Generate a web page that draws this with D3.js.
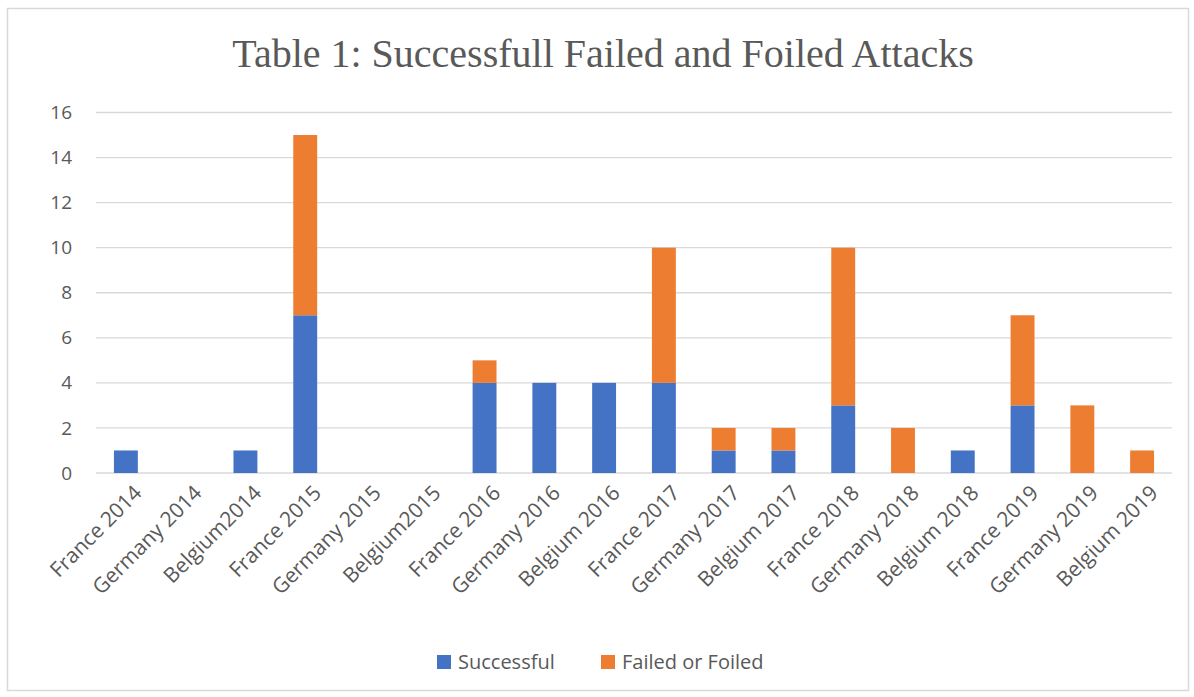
<!DOCTYPE html>
<html>
<head>
<meta charset="utf-8">
<script src="https://cdn.jsdelivr.net/npm/d3@7"></script>
<style>
  body { margin: 0; background: #fff; }
  svg text { font-family: "Open Sans", "DejaVu Sans", sans-serif; }
</style>
</head>
<body>
<div id="vis"></div>
<script>
// chart data
var categories = ['France 2014', 'Germany 2014', 'Belgium2014', 'France 2015', 'Germany 2015', 'Belgium2015',
  'France 2016', 'Germany 2016', 'Belgium 2016', 'France 2017', 'Germany 2017', 'Belgium 2017',
  'France 2018', 'Germany 2018', 'Belgium 2018', 'France 2019', 'Germany 2019', 'Belgium 2019'];
var successful = [1, 0, 1, 7, 0, 0, 4, 4, 4, 4, 1, 1, 3, 0, 1, 3, 0, 0];
var failedOrFoiled = [0, 0, 0, 8, 0, 0, 1, 0, 0, 6, 1, 1, 7, 2, 0, 4, 3, 1];
var seriesNames = ['Successful', 'Failed or Foiled'];
var yTicks = [0, 2, 4, 6, 8, 10, 12, 14, 16];

var colors = ['#4472c4', '#ed7d31'];
var W = 1194, H = 697;
var margin = {top: 112.5, left: 96, right: 22, bottom: 224};

var svg = d3.select('#vis').append('svg')
    .attr('width', W)
    .attr('height', H);

// outer frame
svg.append('rect')
    .attr('x', 7.5).attr('y', 8.5)
    .attr('width', 1181).attr('height', 682)
    .attr('fill', '#fff')
    .attr('stroke', '#d9d9d9')
    .attr('stroke-width', 1.5);

svg.append('text')
    .attr('x', 603).attr('y', 67)
    .attr('text-anchor', 'middle')
    .style('font-family', '"Liberation Serif", "DejaVu Serif", serif')
    .style('font-size', '40px')
    .attr('fill', '#595959')
    .text('Table 1: Successfull Failed and Foiled Attacks');

var x = d3.scaleBand()
    .domain(categories)
    .range([margin.left, W - margin.right - 0])
    .paddingInner(0.6)
    .paddingOuter(0.3);

var y = d3.scaleLinear()
    .domain([0, 16])
    .range([H - margin.bottom, margin.top]);

// gridlines
svg.append('g')
    .selectAll('line')
    .data(yTicks)
    .enter().append('line')
    .attr('x1', margin.left).attr('x2', W - margin.right)
    .attr('y1', function(d) { return y(d); })
    .attr('y2', function(d) { return y(d); })
    .attr('stroke', '#d9d9d9')
    .attr('stroke-width', 1.3);

// y axis labels
var yAxis = d3.axisLeft(y).tickValues(yTicks).tickSize(0).tickPadding(24);
var gy = svg.append('g')
    .attr('transform', 'translate(' + margin.left + ',0)')
    .call(yAxis);
gy.select('.domain').remove();
gy.selectAll('text')
    .style('font-size', '19px')
    .attr('fill', '#595959');

// stacked bars
var rows = categories.map(function(c, i) {
  return {cat: c, s: successful[i], f: failedOrFoiled[i]};
});
var stack = d3.stack().keys(['s', 'f'])(rows);

svg.append('g')
    .selectAll('g')
    .data(stack)
    .enter().append('g')
    .attr('fill', function(d, i) { return colors[i]; })
    .selectAll('rect')
    .data(function(d) { return d; })
    .enter().append('rect')
    .attr('x', function(d) { return x(d.data.cat); })
    .attr('width', x.bandwidth())
    .attr('y', function(d) { return y(d[1]); })
    .attr('height', function(d) { return y(d[0]) - y(d[1]); });

// x axis (line at 0 drawn by gridline)
var xAxis = d3.axisBottom(x).tickSize(0).tickPadding(0);
var gx = svg.append('g')
    .attr('transform', 'translate(0,' + y(0) + ')')
    .call(xAxis);
gx.select('.domain').remove();
gx.selectAll('text')
    .style('font-size', '21px')
    .attr('fill', '#595959')
    .attr('text-anchor', 'end')
    .attr('dy', '0.35em')
    .attr('transform', 'translate(12,16) rotate(-45)');

// legend
var legend = svg.append('g').attr('transform', 'translate(437,662)');
var lx = [0, 164];
seriesNames.forEach(function(n, i) {
  var g = legend.append('g').attr('transform', 'translate(' + lx[i] + ',0)');
  g.append('rect')
      .attr('x', 0).attr('y', -7)
      .attr('width', 14).attr('height', 14)
      .attr('fill', colors[i]);
  g.append('text')
      .attr('x', 21).attr('y', 0)
      .attr('dy', '0.35em')
      .style('font-size', '20px')
      .attr('fill', '#595959')
      .text(n);
});
</script>
</body>
</html>
